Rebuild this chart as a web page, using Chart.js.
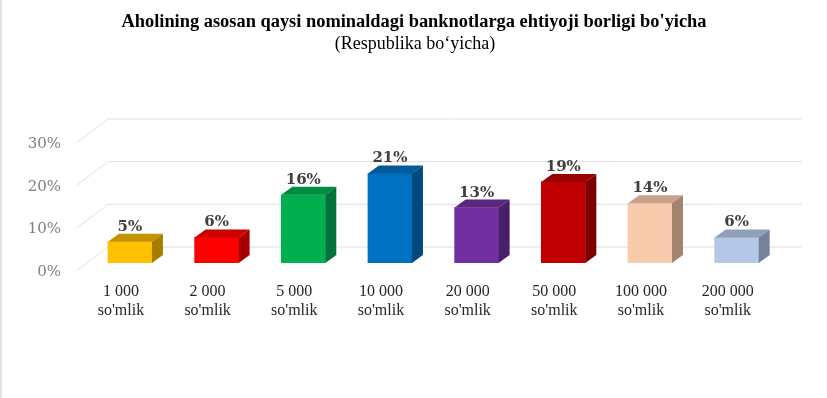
<!DOCTYPE html>
<html>
<head>
<meta charset="utf-8">
<script src="https://cdn.jsdelivr.net/npm/chart.js@4/dist/chart.umd.min.js"></script>
<style>
  html, body { margin: 0; padding: 0; background: #ffffff; }
  #wrap { width: 827px; height: 398px; position: relative; }
</style>
</head>
<body>
<div id="wrap"><canvas id="c" width="827" height="398"></canvas></div>
<script>
// ---- data ----
const categories = [
  ["1 000", "so'mlik"], ["2 000", "so'mlik"], ["5 000", "so'mlik"], ["10 000", "so'mlik"],
  ["20 000", "so'mlik"], ["50 000", "so'mlik"], ["100 000", "so'mlik"], ["200 000", "so'mlik"]
];
const shares = [0.05, 0.06, 0.16, 0.21, 0.13, 0.19, 0.14, 0.06];
const yTicks = [0, 0.10, 0.20, 0.30];
const titleText = "Aholining asosan qaysi nominaldagi banknotlarga ehtiyoji borligi bo'yicha";
const subtitleText = "(Respublika bo\u2018yicha)";

// ---- styles ----
const frontColors = ["#FFC000", "#FF0000", "#00B050", "#0070C0", "#7030A0", "#C00000", "#F8CBAD", "#B4C7E7"];
const topColors   = ["#C49400", "#CC0000", "#008C40", "#005A9A", "#5A2680", "#9A0000", "#C6A28A", "#8FA0BA"];
const sideColors  = ["#A57D00", "#A80000", "#00733A", "#00497E", "#4A1F69", "#7E0000", "#A3856F", "#75839A"];

const DX = 11, DY = 8;               // bar depth offset
const BACK_DX = 21.6, BACK_DY = 16;  // back wall offset
const FRONT_DX = -10, FRONT_DY = 7.5; // front wall offset

const titles = {
  id: 'titles',
  afterDraw(chart) {
    const ctx = chart.ctx;
    ctx.save();
    ctx.fillStyle = '#000000';
    ctx.textAlign = 'center';
    ctx.textBaseline = 'middle';
    ctx.font = 'bold 18.4px "Liberation Serif"';
    ctx.fillText(titleText, 414, 22.5);
    ctx.font = '18px "Liberation Serif"';
    ctx.fillText(subtitleText, 415, 44.5);
    ctx.restore();
  }
};

const walls = {
  id: 'walls',
  beforeDatasetsDraw(chart) {
    const ctx = chart.ctx, y = chart.scales.y, a = chart.chartArea;
    ctx.save();
    ctx.strokeStyle = '#dedede';
    ctx.lineWidth = 1;
    yTicks.forEach(v => {
      const py = y.getPixelForValue(v);
      ctx.beginPath();
      ctx.moveTo(a.left + FRONT_DX, py + FRONT_DY);
      ctx.lineTo(a.left + BACK_DX, py - BACK_DY);
      ctx.lineTo(a.right + BACK_DX, py - BACK_DY);
      ctx.stroke();
    });
    ctx.restore();
  }
};

const bars3d = {
  id: 'bars3d',
  afterDatasetsDraw(chart) {
    const ctx = chart.ctx;
    const meta = chart.getDatasetMeta(0);
    ctx.save();
    meta.data.forEach((bar, i) => {
      const p = bar.getProps(['x', 'y', 'base', 'width'], true);
      const l = p.x - p.width / 2, r = p.x + p.width / 2;
      ctx.fillStyle = topColors[i];
      ctx.beginPath();
      ctx.moveTo(l, p.y); ctx.lineTo(r, p.y);
      ctx.lineTo(r + DX, p.y - DY); ctx.lineTo(l + DX, p.y - DY);
      ctx.closePath(); ctx.fill();
      ctx.fillStyle = sideColors[i];
      ctx.beginPath();
      ctx.moveTo(r, p.y); ctx.lineTo(r + DX, p.y - DY);
      ctx.lineTo(r + DX, p.base - DY); ctx.lineTo(r, p.base);
      ctx.closePath(); ctx.fill();
      ctx.fillStyle = '#404040';
      ctx.font = 'bold 15px "DejaVu Serif"';
      ctx.textAlign = 'center';
      ctx.textBaseline = 'alphabetic';
      ctx.fillText(Math.round(shares[i] * 100) + '%', p.x, p.y - DY - 3);
    });
    ctx.restore();
  }
};

const border = {
  id: 'border',
  afterDraw(chart) {
    const ctx = chart.ctx;
    ctx.save();
    ctx.fillStyle = '#e3e3e3';
    ctx.fillRect(0, 0, 2, chart.height);
    ctx.restore();
  }
};

new Chart(document.getElementById('c'), {
  type: 'bar',
  data: {
    labels: categories,
    datasets: [{
      data: shares,
      backgroundColor: frontColors,
      borderWidth: 0,
      barThickness: 44
    }]
  },
  options: {
    responsive: false,
    animation: false,
    devicePixelRatio: 1,
    layout: { padding: { left: 0, right: 47, top: 135, bottom: 0 } },
    plugins: {
      legend: { display: false },
      tooltip: { enabled: false },
      title: { display: false },
      subtitle: { display: false }
    },
    scales: {
      x: {
        grid: { display: false, drawTicks: false },
        border: { display: false },
        ticks: {
          color: '#262626',
          font: { family: '"Liberation Serif"', size: 16, lineHeight: 1.2 },
          padding: 19,
          labelOffset: -9,
          maxRotation: 0,
          autoSkip: false
        },
        afterFit(scale) { scale.height = 135; }
      },
      y: {
        min: 0,
        max: 0.30,
        grid: { display: false, drawTicks: false },
        border: { display: false },
        afterBuildTicks(scale) { scale.ticks = yTicks.map(v => ({ value: v })); },
        ticks: {
          color: '#7f7f7f',
          font: { family: '"DejaVu Serif"', size: 15 },
          padding: 25.6,
          labelOffset: 9,
          callback: v => Math.round(v * 100) + '%'
        },
        afterFit(scale) { scale.width = 86.6; }
      }
    }
  },
  plugins: [walls, bars3d, border, titles]
});
</script>
</body>
</html>
